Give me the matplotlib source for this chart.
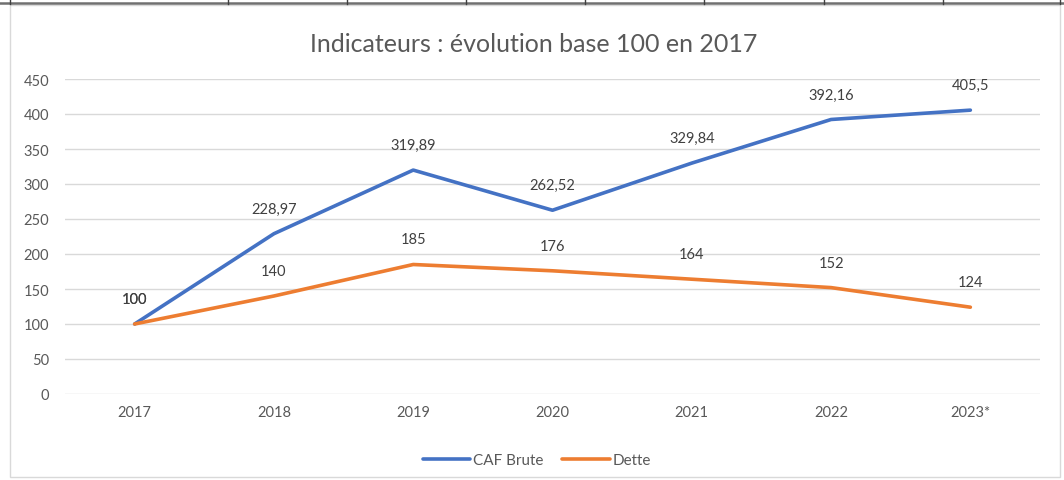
import matplotlib.pyplot as plt
from matplotlib.lines import Line2D
from matplotlib.patches import Rectangle

years = ["2017", "2018", "2019", "2020", "2021", "2022", "2023*"]
caf_brute = [100, 228.97, 319.89, 262.52, 329.84, 392.16, 405.5]
dette = [100, 140, 185, 176, 164, 152, 124]
y_ticks = [0, 50, 100, 150, 200, 250, 300, 350, 400, 450]

BLUE = "#4472C4"
ORANGE = "#ED7D31"
GREY = "#595959"

plt.rcParams["font.family"] = ["Lato", "DejaVu Sans"]


def fr(v):
    # french decimal comma
    s = ("%.2f" % v).rstrip("0").rstrip(".")
    return s.replace(".", ",")


fig = plt.figure(figsize=(10.64, 4.81), dpi=100)

# chart frame and the table border strip above it
fig.patches.append(Rectangle((10 / 1064, 3 / 481), 1050 / 1064, 472 / 481,
                             transform=fig.transFigure, fill=False,
                             edgecolor="#D9D9D9", linewidth=1))
fig.add_artist(Line2D([0, 1], [1 - 4 / 481, 1 - 4 / 481], transform=fig.transFigure,
                      color="#707070", linewidth=1.8))
for xp in [10, 228, 347, 466, 585, 704, 824, 943, 1060]:
    fig.add_artist(Line2D([xp / 1064, xp / 1064], [1 - 5 / 481, 1], transform=fig.transFigure,
                          color="#404040", linewidth=1))

ax = fig.add_axes([65 / 1064, 1 - 395 / 481, 975 / 1064, 315 / 481])
x = range(len(years))
ax.plot(x, caf_brute, color=BLUE, linewidth=2.6, solid_capstyle="round", label="CAF Brute")
ax.plot(x, dette, color=ORANGE, linewidth=2.6, solid_capstyle="round", label="Dette")

for i, v in enumerate(caf_brute):
    ax.annotate(fr(v), (i, v), xytext=(0, 13), textcoords="offset points",
                ha="center", va="bottom", fontsize=10.5, color="#404040")
for i, v in enumerate(dette):
    ax.annotate(fr(v), (i, v), xytext=(0, 13), textcoords="offset points",
                ha="center", va="bottom", fontsize=10.5, color="#404040")

ax.set_xlim(-0.5, len(years) - 0.5)
ax.set_ylim(0, 450)
ax.set_yticks(y_ticks)
ax.set_xticks(list(x))
ax.set_xticklabels(years)
ax.tick_params(axis="both", length=0, labelsize=10.5, labelcolor=GREY)
ax.tick_params(axis="y", pad=11.5)
ax.tick_params(axis="x", pad=8)
ax.grid(axis="y", color="#D9D9D9", linewidth=1)
ax.set_axisbelow(True)
for s in ax.spines.values():
    s.set_visible(False)

fig.text(534 / 1064, 1 - 44 / 481, "Indicateurs : évolution base 100 en 2017",
         ha="center", va="center", fontsize=18, color=GREY)

fig.legend(loc="center", bbox_to_anchor=(537 / 1064, 1 - 461 / 481), ncol=2,
           frameon=False, fontsize=11, labelcolor=GREY, handlelength=3.1,
           columnspacing=1.2, handletextpad=0.2)

fig.savefig("out.png", dpi=100)
